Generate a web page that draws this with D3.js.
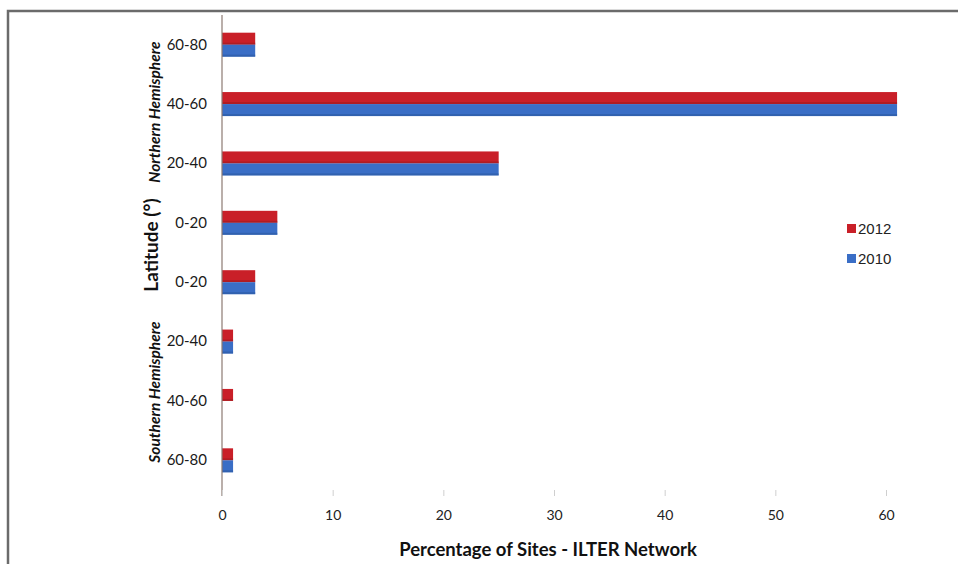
<!DOCTYPE html>
<html><head><meta charset="utf-8">
<script src="https://cdn.jsdelivr.net/npm/d3@7"></script>
<style>
html,body{margin:0;padding:0;background:#fff;}
svg{display:block;}
</style></head>
<body>
<svg id="c" width="958" height="564"></svg>
<script>
const categories = ["60-80","40-60","20-40","0-20","0-20","20-40","40-60","60-80"];
const hemispheres = ["Northern","Northern","Northern","Northern","Southern","Southern","Southern","Southern"];
const seriesNames = ["2012","2010"];
const values2012 = [3, 61, 25, 5, 3, 1, 1, 1];
const values2010 = [3, 61, 25, 5, 3, 1, 0, 1];
const xTicks = [0,10,20,30,40,50,60];
const colors = {"2012":"#c91f28","2010":"#3a6ec6"};

const svg = d3.select("#c");
const font = "Lato, 'Open Sans', sans-serif";

// frame
svg.append("rect").attr("x",8).attr("y",11).attr("width",960).attr("height",570)
  .attr("fill","none").attr("stroke","#6b6b6b").attr("stroke-width",2.5);

const x = d3.scaleLinear().domain([0,60]).range([222,886]);
const idx = categories.map((d,i)=>i);
const y0 = d3.scaleBand().domain(idx).range([15,490]);
const y1 = d3.scaleBand().domain(seriesNames).range([0,y0.bandwidth()]).paddingOuter(1.475);

const rows = idx.map(i=>({i, vals:[{s:"2012",v:values2012[i]},{s:"2010",v:values2010[i]}]}));

const g = svg.append("g");
rows.forEach(r=>{
  r.vals.forEach(d=>{
    if(d.v<=0) return;
    const yy = y0(r.i)+y1(d.s);
    g.append("rect").attr("x",x(0)).attr("y",yy).attr("width",x(d.v)-x(0)).attr("height",y1.bandwidth())
      .attr("fill",colors[d.s]);
    g.append("rect").attr("x",x(0)).attr("y",yy+y1.bandwidth()-2).attr("width",x(d.v)-x(0)).attr("height",2)
      .attr("fill", d.s==="2012" ? "#9e1a20" : "#2c58a0").attr("opacity",0.6);
  });
});

// y axis line
svg.append("line").attr("x1",x(0)).attr("x2",x(0)).attr("y1",15).attr("y2",496)
  .attr("stroke","#8c7a72").attr("stroke-width",1.2);

// y category labels
const yAxis = d3.axisLeft(y0).tickSize(0).tickPadding(15).tickFormat(i=>categories[i]);
const ya = svg.append("g").attr("transform",`translate(${x(0)},0)`).call(yAxis);
ya.select(".domain").remove();
ya.selectAll("text").attr("font-family",font).attr("font-size",15).attr("fill","#1a1a1a");

// x axis
const xAxis = d3.axisBottom(x).tickValues(xTicks).tickSize(6).tickPadding(14).tickFormat(d3.format("d"));
const xa = svg.append("g").attr("transform","translate(0,490)").call(xAxis);
xa.select(".domain").remove();
xa.selectAll("line").attr("stroke","#cfcfcf");
xa.selectAll("text").attr("font-family",font).attr("font-size",14).attr("fill","#222");

// axis titles
svg.append("text").attr("x",548).attr("y",556).attr("text-anchor","middle")
  .attr("font-family",font).attr("font-weight","bold").attr("font-size",18.5).attr("fill","#111")
  .text("Percentage of Sites - ILTER Network");
svg.append("text").attr("transform","translate(158,245) rotate(-90)").attr("text-anchor","middle")
  .attr("font-family",font).attr("font-weight","bold").attr("font-size",19).attr("fill","#111")
  .text("Latitude (°)");
svg.append("text").attr("transform","translate(160,112) rotate(-90)").attr("text-anchor","middle")
  .attr("font-family",font).attr("font-weight","bold").attr("font-style","italic").attr("font-size",15.5).attr("fill","#111")
  .text("Northern Hemisphere");
svg.append("text").attr("transform","translate(160,392) rotate(-90)").attr("text-anchor","middle")
  .attr("font-family",font).attr("font-weight","bold").attr("font-style","italic").attr("font-size",15.5).attr("fill","#111")
  .text("Southern Hemisphere");

// legend
const lg = svg.append("g").attr("transform","translate(847,222)");
seriesNames.forEach((s,i)=>{
  lg.append("rect").attr("x",0).attr("y",i*30+2).attr("width",9).attr("height",9).attr("fill",colors[s]);
  lg.append("text").attr("x",11).attr("y",i*30+12).attr("font-family","'Liberation Sans', Arial, sans-serif")
    .attr("font-size",15).attr("fill","#222").text(s);
});
</script>
</body></html>
